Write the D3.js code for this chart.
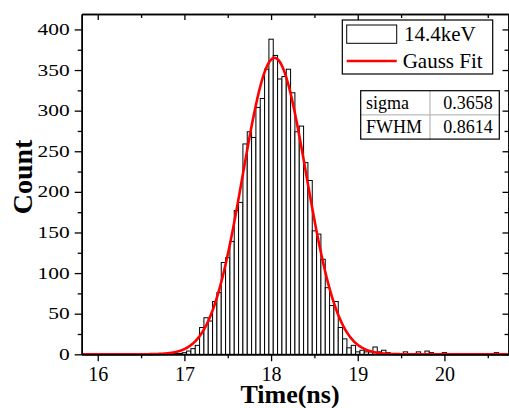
<!DOCTYPE html>
<html>
<head>
<meta charset="utf-8">
<script src="https://cdn.jsdelivr.net/npm/d3@7/dist/d3.min.js"></script>
<style>
  body { margin: 0; background: #fff; }
  text { font-family: "Liberation Serif", "Times New Roman", serif; fill: #000; }
</style>
</head>
<body>
<div class="chart"></div>
<script>
// histogram data (bin centres in ns, counts), 0.05 ns bins
var binTimes = [16.9, 16.95, 17.0, 17.05, 17.1, 17.15, 17.2, 17.25, 17.3, 17.35,
  17.4, 17.45, 17.5, 17.55, 17.6, 17.65, 17.7, 17.75, 17.8, 17.85,
  17.9, 17.95, 18.0, 18.05, 18.1, 18.15, 18.2, 18.25, 18.3, 18.35,
  18.4, 18.45, 18.5, 18.55, 18.6, 18.65, 18.7, 18.75, 18.8, 18.85,
  18.9, 18.95, 19.0, 19.05, 19.1, 19.15, 19.2, 19.25, 19.3, 19.35,
  19.4, 19.55, 19.7, 19.8, 19.85, 20.0, 20.05, 20.15, 20.6, 20.65];
var binCounts = [1, 1, 2, 4, 7, 11, 33, 45, 41, 65,
  76, 113, 119, 139, 177, 187, 259, 274, 267, 304,
  315, 351, 388, 368, 339, 342, 351, 322, 274, 281,
  236, 214, 152, 148, 117, 82, 60, 65, 33, 19,
  8, 11, 3, 5, 3, 3, 9, 3, 5, 2,
  1, 3, 3, 4, 2, 2, 1, 1, 2, 1];
var binWidth = 0.05;

// gaussian fit parameters
var fitAmp = 365;
var fitMean = 18.04;
var fitSigma = 0.3658;

var xTicks = [16, 17, 18, 19, 20];
var xMinor = [16.5, 17.5, 18.5, 19.5, 20.5];
var yTicks = [0, 50, 100, 150, 200, 250, 300, 350, 400];
var yMinor = [25, 75, 125, 175, 225, 275, 325, 375];

var legendLabels = ["14.4keV", "Gauss Fit"];
var statNames = ["sigma", "FWHM"];
var statValues = ["0.3658", "0.8614"];

var serif = "'Liberation Serif', 'Times New Roman', serif";

// Set up our chart
var svgWidth = 509;
var svgHeight = 408;
var margin = { top: 14, right: 0, bottom: 53.7, left: 81.7 };
var width = svgWidth - margin.left - margin.right;
var height = svgHeight - margin.top - margin.bottom;

var svg = d3.select(".chart")
  .append("svg")
  .attr("width", svgWidth)
  .attr("height", svgHeight)
  .attr("font-family", serif);

var chartGroup = svg.append("g")
  .attr("transform", `translate(${margin.left},${margin.top})`);

var xScale = d3.scaleLinear().domain([15.815, 20.745]).range([0, width]);
var yScale = d3.scaleLinear().domain([0, 419]).range([height, 0]);

// bars
chartGroup.selectAll("rect.bar")
  .data(binTimes)
  .enter()
  .append("rect")
  .attr("class", "bar")
  .attr("x", d => xScale(d - binWidth / 2))
  .attr("width", d => xScale(d + binWidth / 2) - xScale(d - binWidth / 2))
  .attr("y", (d, i) => yScale(binCounts[i]))
  .attr("height", (d, i) => yScale(0) - yScale(binCounts[i]))
  .attr("fill", "#fff")
  .attr("stroke", "#000")
  .attr("stroke-width", 1);

// fit curve
var curveX = d3.range(xScale.domain()[0], xScale.domain()[1], 0.005);
var fitLine = d3.line()
  .x(d => xScale(d))
  .y(d => yScale(fitAmp * Math.exp(-Math.pow(d - fitMean, 2) / (2 * fitSigma * fitSigma))));
chartGroup.append("path")
  .datum(curveX)
  .attr("d", fitLine)
  .attr("fill", "none")
  .attr("stroke", "#ff0000")
  .attr("stroke-width", 2.6);

// axes
function styleAxis(g) {
  g.attr("font-family", serif);
  g.select(".domain").attr("stroke", "#000").attr("stroke-width", 1.5);
  g.selectAll(".tick line").attr("stroke", "#000").attr("stroke-width", 1.3);
}

var bottomAxis = chartGroup.append("g")
  .attr("transform", `translate(0, ${height})`)
  .call(d3.axisBottom(xScale).tickValues(xTicks).tickSize(7).tickSizeOuter(0).tickPadding(6).tickFormat(d3.format("d")));
bottomAxis.selectAll("text").attr("font-size", 20).attr("dy", "0.71em");
styleAxis(bottomAxis);
var bottomMinor = chartGroup.append("g")
  .attr("transform", `translate(0, ${height})`)
  .call(d3.axisBottom(xScale).tickValues(xMinor).tickSize(4).tickSizeOuter(0).tickFormat(""));
styleAxis(bottomMinor);

var topAxis = chartGroup.append("g")
  .call(d3.axisTop(xScale).tickValues(xTicks).tickSize(-6).tickSizeOuter(0).tickFormat(""));
styleAxis(topAxis);
var topMinor = chartGroup.append("g")
  .call(d3.axisTop(xScale).tickValues(xMinor).tickSize(-4).tickSizeOuter(0).tickFormat(""));
styleAxis(topMinor);

var leftAxis = chartGroup.append("g")
  .call(d3.axisLeft(yScale).tickValues(yTicks).tickSize(7).tickSizeOuter(0).tickPadding(5));
leftAxis.selectAll("text")
  .attr("font-size", 16)
  .attr("textLength", d => String(d).length * 10.7)
  .attr("lengthAdjust", "spacingAndGlyphs");
styleAxis(leftAxis);
var leftMinor = chartGroup.append("g")
  .call(d3.axisLeft(yScale).tickValues(yMinor).tickSize(4).tickSizeOuter(0).tickFormat(""));
styleAxis(leftMinor);

var rightAxis = chartGroup.append("g")
  .attr("transform", `translate(${width - 0.5}, 0)`)
  .call(d3.axisRight(yScale).tickValues(yTicks).tickSize(-6).tickSizeOuter(0).tickFormat(""));
styleAxis(rightAxis);
var rightMinor = chartGroup.append("g")
  .attr("transform", `translate(${width - 0.5}, 0)`)
  .call(d3.axisRight(yScale).tickValues(yMinor).tickSize(-4).tickSizeOuter(0).tickFormat(""));
styleAxis(rightMinor);

// axis labels
svg.append("text")
  .attr("transform", "translate(32, 177) rotate(-90)")
  .attr("text-anchor", "middle")
  .attr("font-size", 28)
  .attr("font-weight", "bold")
  .text("Count");

svg.append("text")
  .attr("x", 290)
  .attr("y", 403)
  .attr("text-anchor", "middle")
  .attr("font-size", 26)
  .attr("font-weight", "bold")
  .text("Time(ns)");

// legend
var legend = svg.append("g");
legend.append("rect")
  .attr("x", 342.3).attr("y", 20).attr("width", 150.4).attr("height", 54)
  .attr("fill", "#fff").attr("stroke", "#000").attr("stroke-width", 1.2);
legend.append("rect")
  .attr("x", 346.7).attr("y", 25).attr("width", 50).attr("height", 18.3)
  .attr("fill", "#fff").attr("stroke", "#000").attr("stroke-width", 1);
legend.append("line")
  .attr("x1", 346.7).attr("x2", 396.7).attr("y1", 61).attr("y2", 61)
  .attr("stroke", "#ff0000").attr("stroke-width", 2.6);
legend.selectAll("text.leg")
  .data(legendLabels)
  .enter()
  .append("text")
  .attr("class", "leg")
  .attr("x", (d, i) => i === 0 ? 404 : 402.7)
  .attr("y", (d, i) => i === 0 ? 40.7 : 68.3)
  .attr("font-size", 21)
  .text(d => d);

// stats table
var table = svg.append("g");
var tx = 360.7, ty = 90.7, tw = 138.6, rowH = 24.2, colX = 430;
table.append("line").attr("x1", tx).attr("x2", tx + tw).attr("y1", ty + rowH).attr("y2", ty + rowH)
  .attr("stroke", "#aaa").attr("stroke-width", 1);
table.append("line").attr("x1", colX).attr("x2", colX).attr("y1", ty).attr("y2", ty + 2 * rowH)
  .attr("stroke", "#aaa").attr("stroke-width", 1);
table.append("rect")
  .attr("x", tx).attr("y", ty).attr("width", tw).attr("height", 2 * rowH)
  .attr("fill", "none").attr("stroke", "#000").attr("stroke-width", 1.2);
table.selectAll("text.name")
  .data(statNames)
  .enter()
  .append("text")
  .attr("class", "name")
  .attr("x", tx + 5.3)
  .attr("y", (d, i) => ty + 18.3 + i * rowH)
  .attr("font-size", 18)
  .text(d => d);
table.selectAll("text.val")
  .data(statValues)
  .enter()
  .append("text")
  .attr("class", "val")
  .attr("x", tx + tw - 6.6)
  .attr("y", (d, i) => ty + 18.3 + i * rowH)
  .attr("text-anchor", "end")
  .attr("font-size", 18)
  .text(d => d);
</script>
</body>
</html>
